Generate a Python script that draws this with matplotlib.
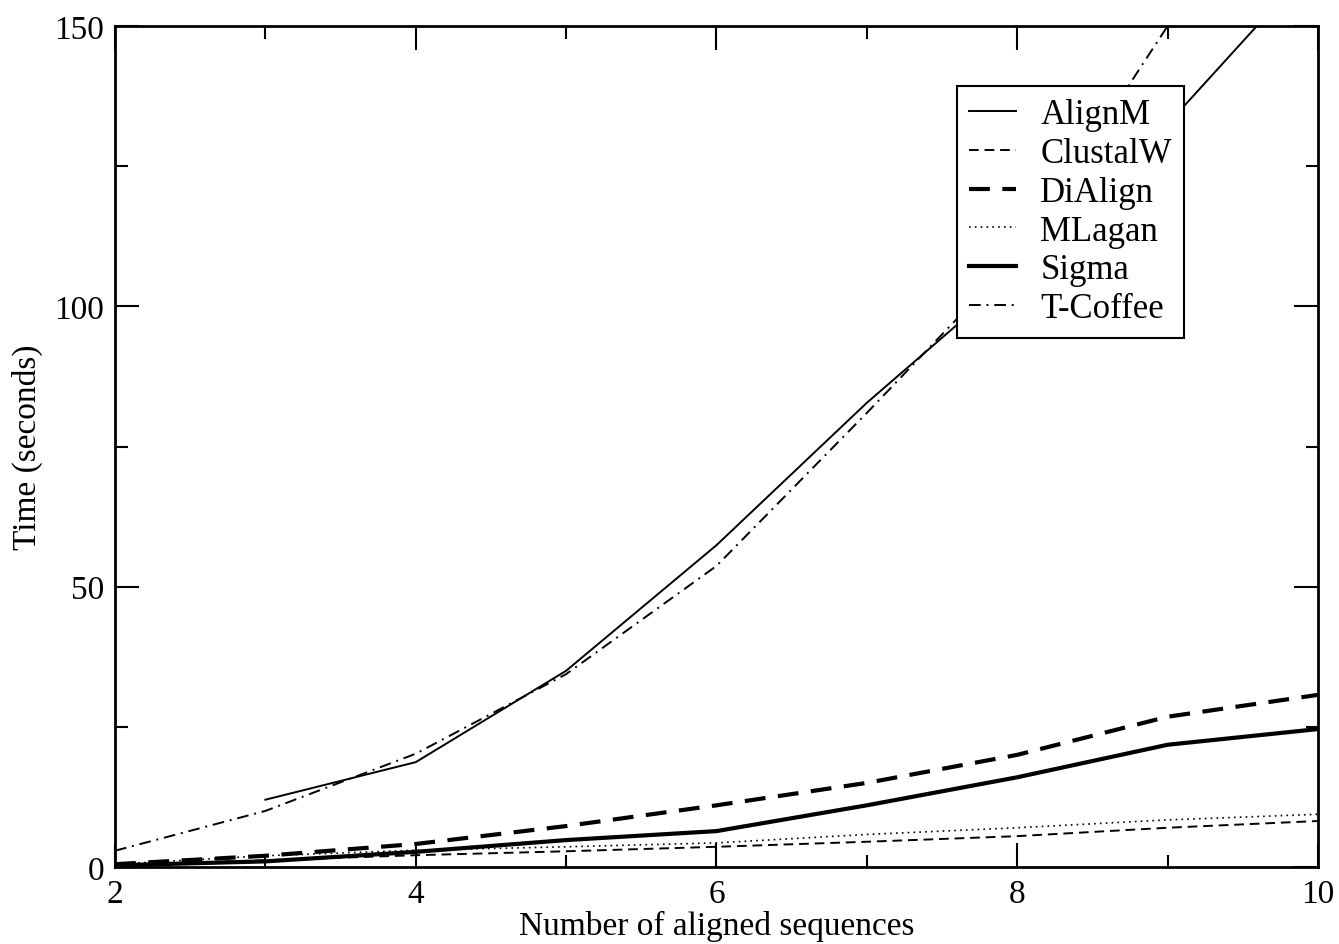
import matplotlib
matplotlib.use('Agg')
import matplotlib.pyplot as plt
from matplotlib.ticker import MultipleLocator

# data
n_seqs = [2, 3, 4, 5, 6, 7, 8, 9, 10]
alignm_x = [3, 4, 5, 6, 7, 8, 9, 10]
alignm = [12.0, 18.7, 35.0, 57.4, 82.8, 106.0, 132.5, 162.0]
clustalw = [0.3, 1.2, 2.1, 2.8, 3.6, 4.5, 5.5, 7.0, 8.2]
dialign = [0.5, 2.0, 4.1, 7.3, 11.0, 15.0, 20.0, 26.8, 30.7]
mlagan = [0.5, 2.0, 3.0, 3.6, 4.3, 5.8, 7.0, 8.4, 9.4]
sigma = [0.3, 1.0, 2.7, 4.8, 6.4, 11.0, 16.0, 21.8, 24.6]
tcoffee = [2.9, 10.0, 20.2, 34.4, 53.7, 81.0, 109.0, 150.0, 190.0]

plt.rcParams['font.family'] = ['Liberation Serif', 'DejaVu Serif']

fig = plt.figure(figsize=(13.39, 9.45), dpi=100)
ax = fig.add_axes([0.0859, 0.0815, 0.8984, 0.8899])

ax.plot(alignm_x, alignm, color='black', lw=1.4, ls='-', label='AlignM')
ax.plot(n_seqs, clustalw, color='black', lw=1.4, ls=(0, (5, 3)), label='ClustalW')
ax.plot(n_seqs, dialign, color='black', lw=3.0, ls=(0, (5, 3)), label='DiAlign')
ax.plot(n_seqs, mlagan, color='black', lw=1.2, ls=(0, (1, 2.5)), label='MLagan')
ax.plot(n_seqs, sigma, color='black', lw=3.0, ls='-', label='Sigma')
ax.plot(n_seqs, tcoffee, color='black', lw=1.4, ls=(0, (6, 3, 1, 3)), label='T-Coffee')

ax.set_xlim(2, 10)
ax.set_ylim(0, 150)
ax.xaxis.set_major_locator(MultipleLocator(2))
ax.xaxis.set_minor_locator(MultipleLocator(1))
ax.yaxis.set_major_locator(MultipleLocator(50))
ax.yaxis.set_minor_locator(MultipleLocator(25))
ax.tick_params(which='both', direction='in', top=True, right=True, width=1.5,
               labelsize=24, colors='black', pad=8)
ax.tick_params(which='major', length=17)
ax.tick_params(which='minor', length=9)
for s in ax.spines.values():
    s.set_linewidth(2)

ax.set_xlabel('Number of aligned sequences', fontsize=24, labelpad=1)
ax.set_ylabel('Time (seconds)', fontsize=24, labelpad=8)

leg = ax.legend(loc='upper left', bbox_to_anchor=(0.700, 0.929), borderaxespad=0,
                fontsize=25, frameon=True, fancybox=False, framealpha=1,
                edgecolor='black', handlelength=1.35, labelspacing=0.17,
                handletextpad=0.7, borderpad=0.35)
leg.get_frame().set_linewidth(1.5)

fig.savefig('out.png', dpi=100)
